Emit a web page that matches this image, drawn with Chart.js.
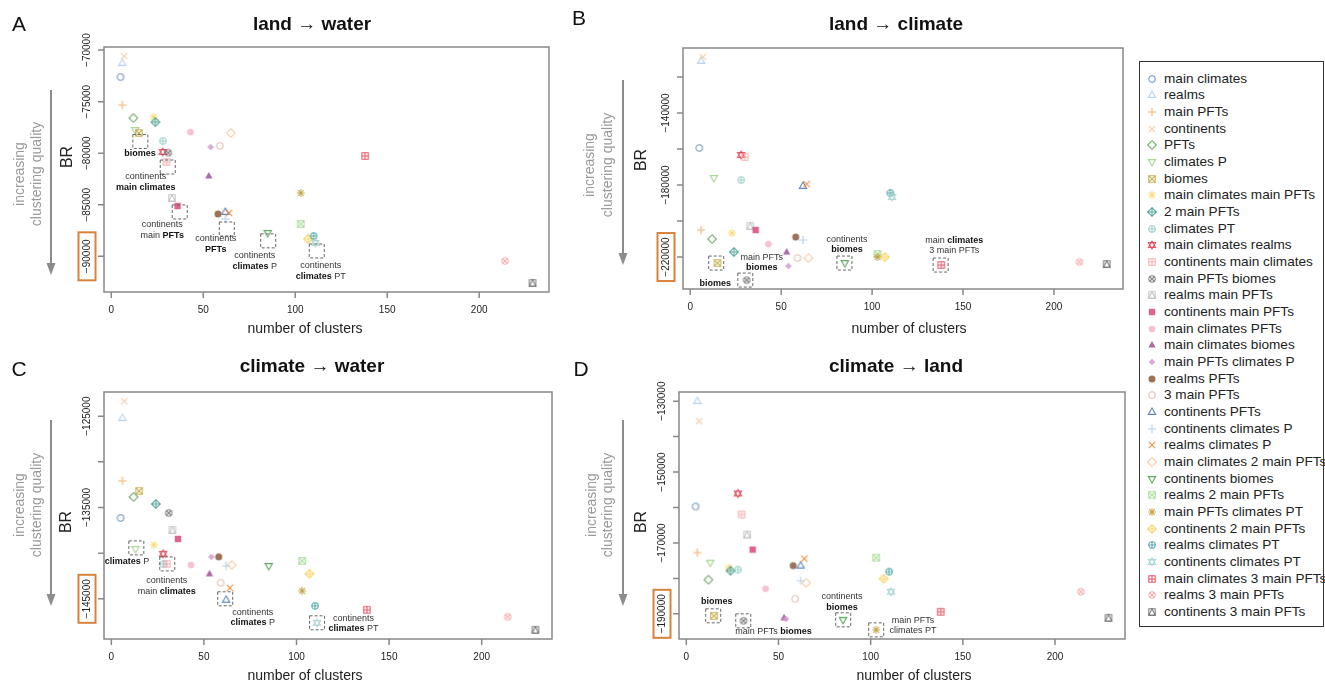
<!DOCTYPE html>
<html>
<head>
<meta charset="utf-8">
<script src="https://cdn.jsdelivr.net/npm/chart.js@4.4.1/dist/chart.umd.min.js"></script>
<style>
  body { margin: 0; background: #fff; width: 1325px; height: 683px; overflow: hidden; position: relative;
         font-family: "Liberation Sans", Arial, sans-serif; }
  canvas.panel { position: absolute; }
  #legend { position: absolute; left: 1139px; top: 61px; width: 185px; height: 566px;
            border: 1.5px solid #333; box-sizing: border-box; }
  #legend .item { position: absolute; left: 0; height: 16px; line-height: 16px; white-space: nowrap;
                  font-size: 13.6px; color: #222; }
  #legend .item canvas { position: absolute; left: 5px; top: 1px; }
  #legend .item span { position: absolute; left: 24px; top: 0; }
</style>
</head>
<body>
<canvas id="pA" class="panel" width="560" height="340" style="left:0;top:0"></canvas>
<canvas id="pB" class="panel" width="575" height="340" style="left:560px;top:0"></canvas>
<canvas id="pC" class="panel" width="560" height="343" style="left:0;top:340px"></canvas>
<canvas id="pD" class="panel" width="575" height="343" style="left:560px;top:340px"></canvas>
<div id="legend"></div>
<script>
// grouping schemes, their number of clusters and the BR score for each mapping
const groupings = [
  'main climates', 'realms', 'main PFTs', 'continents', 'PFTs', 'climates P', 'biomes',
  'main climates main PFTs', '2 main PFTs', 'climates PT', 'main climates realms',
  'continents main climates', 'main PFTs biomes', 'realms main PFTs', 'continents main PFTs',
  'main climates PFTs', 'main climates biomes', 'main PFTs climates P', 'realms PFTs',
  '3 main PFTs', 'continents PFTs', 'continents climates P', 'realms climates P',
  'main climates 2 main PFTs', 'continents biomes', 'realms 2 main PFTs',
  'main PFTs climates PT', 'continents 2 main PFTs', 'realms climates PT',
  'continents climates PT', 'main climates 3 main PFTs', 'realms 3 main PFTs',
  'continents 3 main PFTs'
];
const clusters = [5, 6, 6, 7, 12, 13, 15, 23, 24, 28, 28, 30, 31, 33, 36, 43, 53, 54, 58, 59,
  62, 62, 64, 65, 85, 103, 103, 107, 110, 111, 138, 214, 229];

const brLandWater = [-72620, -71260, -75330, -70580, -76590, -77750, -78040, -76490, -76980,
  -78820, -79880, -80850, -79950, -84340, -85120, -77950, -82210, -79400, -85890, -79300,
  -85700, -86380, -85790, -78040, -87730, -86860, -83860, -88310, -88020, -88700, -80270,
  -90450, -92580];
const brLandClimate = [-159450, -111110, -205000, -108890, -210000, -176110, -223340, -206670,
  -217230, -177230, -163330, -164450, -232790, -202780, -205000, -212790, -217230, -225000,
  -208890, -220560, -180560, -210560, -179450, -220560, -223340, -218340, -220000, -220000,
  -184450, -186670, -224450, -222780, -223890];
const brClimateWater = [-136150, -125220, -132100, -123360, -133850, -139540, -133200, -139100,
  -134620, -141180, -140080, -141180, -135600, -137460, -138440, -141290, -142270, -140410,
  -140410, -143250, -145110, -141400, -143800, -141290, -141400, -140850, -144130, -142270,
  -145770, -147630, -146200, -146970, -148400];
const brClimateLand = [-159720, -130000, -172730, -135660, -180370, -175560, -190560, -176980,
  -177830, -177540, -156040, -161980, -191980, -167640, -171880, -182920, -191130, -191410,
  -176410, -185750, -176410, -180660, -174430, -181220, -191690, -174150, -194520, -180090,
  -178110, -183770, -189430, -183770, -191130];

// R plotting symbols (pch) and colours, one per grouping
const symbols = [1, 2, 3, 4, 5, 6, 7, 8, 9, 10, 11, 12, 13, 14, 15, 16, 17, 18, 19,
  1, 2, 3, 4, 5, 6, 7, 8, 9, 10, 11, 12, 13, 14];
const colours = ['#5a84b8', '#a9c9e6', '#f2a55a', '#f4c595', '#5c9e52', '#96d184', '#bda23c',
  '#f7d66a', '#3b9a8b', '#8fcac1', '#e0404f', '#f5a3a3', '#707070', '#bdbdbd', '#d9487b',
  '#f6b6cd', '#9a4f93', '#d49bcb', '#8b5a3c', '#d9b5aa', '#4471b2', '#a5c7e8', '#f07d22',
  '#f7c395', '#3d9a40', '#9ed98c', '#b8982a', '#f7cf55', '#3f9a9a', '#a3d3cf', '#e0404f',
  '#f5a8a8', '#6a6a6a'];

const xTicks = [0, 50, 100, 150, 200];

const FONT = '"Liberation Sans", Arial, sans-serif';

// draws an R style pch symbol into a small canvas used as point image
function makeMarker(pch, colour) {
  const c = document.createElement('canvas');
  c.width = 14; c.height = 14;
  const g = c.getContext('2d');
  g.globalAlpha = 0.85;
  g.strokeStyle = colour; g.fillStyle = colour; g.lineWidth = 1.1;
  const m = 7, s = 3.2;
  const path = pts => {
    g.beginPath();
    pts.forEach((p, i) => i ? g.lineTo(m + p[0], m + p[1]) : g.moveTo(m + p[0], m + p[1]));
    g.closePath();
  };
  const circle = r => { g.beginPath(); g.arc(m, m, r, 0, Math.PI * 2); };
  const seg = (x0, y0, x1, y1) => { g.moveTo(m + x0, m + y0); g.lineTo(m + x1, m + y1); };
  const plus = r => { g.beginPath(); seg(-r, 0, r, 0); seg(0, -r, 0, r); g.stroke(); };
  const cross = r => { g.beginPath(); seg(-r, -r, r, r); seg(-r, r, r, -r); g.stroke(); };
  const up = [[0, -s * 1.25], [s * 1.15, s * 0.75], [-s * 1.15, s * 0.75]];
  const down = [[0, s * 1.25], [s * 1.15, -s * 0.75], [-s * 1.15, -s * 0.75]];
  const diamond = r => [[0, -r], [r, 0], [0, r], [-r, 0]];
  const square = r => [[-r, -r], [r, -r], [r, r], [-r, r]];
  switch (pch) {
    case 1: circle(s); g.stroke(); break;
    case 2: path(up); g.stroke(); break;
    case 3: plus(s * 1.3); break;
    case 4: cross(s); break;
    case 5: path(diamond(s * 1.35)); g.stroke(); break;
    case 6: path(down); g.stroke(); break;
    case 7: path(square(s)); g.stroke(); cross(s); break;
    case 8: plus(s * 1.25); cross(s * 0.9); break;
    case 9: path(diamond(s * 1.35)); g.stroke(); plus(s * 1.35); break;
    case 10: circle(s); g.stroke(); plus(s); break;
    case 11: path(up); g.stroke(); path(down); g.stroke(); break;
    case 12: path(square(s)); g.stroke(); plus(s); break;
    case 13: circle(s); g.stroke(); cross(s * 0.7); break;
    case 14: path(square(s)); g.stroke(); path([[-s, s], [0, -s], [s, s]]); g.stroke(); break;
    case 15: path(square(s)); g.fill(); break;
    case 16: circle(s * 1.05); g.fill(); break;
    case 17: path(up); g.fill(); break;
    case 18: path(diamond(s * 1.05)); g.fill(); break;
    case 19: circle(s * 1.1); g.fill(); break;
  }
  return c;
}

const B = 1, N = 0; // bold / normal text segments
const panels = [
  {
    id: 'pA', letter: 'A', title: 'land \u2192 water', values: brLandWater,
    yTicks: [-90000, -85000, -80000, -75000, -70000],
    yLabels: [-90000, -85000, -80000, -75000, -70000],
    pad: { left: 104, top: 47, right: 11, bottom: 48 },
    deco: { letter: [19, 25], title: [312, 25], xlab: [305, 329], br: [68, 157],
            arrow: [51, 90, 275], quality: [20, 37, 174] },
    boxes: [[15.8, -78870], [30.7, -81340], [37.2, -85700], [62.8, -87350], [85.3, -88500], [111.7, -89480]],
    notes: [
      { x: 15.6, y: -80050, lines: [[['biomes', B]]] },
      { x: 18.7, y: -82280, lines: [[['continents', N]], [['main climates', B]]] },
      { x: 27.7, y: -86960, lines: [[['continents', N]], [['main ', N], ['PFTs', B]]] },
      { x: 56.8, y: -88310, lines: [[['continents', N]], [['PFTs', B]]] },
      { x: 78.0, y: -89930, lines: [[['continents', N]], [['climates', B], [' P', N]]] },
      { x: 113.9, y: -90930, lines: [[['continents', N]], [['climates', B], [' PT', N]]] }
    ]
  },
  {
    id: 'pB', letter: 'B', title: 'land \u2192 climate', values: brLandClimate,
    yTicks: [-220000, -200000, -180000, -160000, -140000, -120000],
    yLabels: [-220000, -180000, -140000],
    pad: { left: 123, top: 48, right: 12, bottom: 51 },
    deco: { letter: [19, 19], title: [336, 25], xlab: [349, 329], br: [82, 160],
            arrow: [63, 80, 265], quality: [30, 48, 165] },
    boxes: [[14.3, -223340], [30.3, -232790], [84.8, -223340], [137.7, -224450]],
    notes: [
      { x: 13.8, y: -234450, lines: [[['biomes', B]]] },
      { x: 39.4, y: -220000, lines: [[['main PFTs', N]], [['biomes', B]]] },
      { x: 86.2, y: -210000, lines: [[['continents', N]], [['biomes', B]]] },
      { x: 145.2, y: -210560, lines: [[['main ', N], ['climates', B]], [['3 main PFTs', N]]] }
    ]
  },
  {
    id: 'pC', letter: 'C', title: 'climate \u2192 water', values: brClimateWater,
    yTicks: [-145000, -140000, -135000, -130000, -125000],
    yLabels: [-145000, -135000, -125000],
    pad: { left: 104, top: 52, right: 8, bottom: 44 },
    deco: { letter: [19, 30], title: [312, 27], xlab: [305, 336], br: [67, 182],
            arrow: [51, 80, 266], quality: [20, 37, 165] },
    boxes: [[13.5, -139430], [30.2, -141180], [61.5, -145000], [111.1, -147630]],
    notes: [
      { x: 8.4, y: -140930, lines: [[['climates', B], [' P', N]]] },
      { x: 29.9, y: -143030, lines: [[['continents', N]], [['main ', N], ['climates', B]]] },
      { x: 76.4, y: -146460, lines: [[['continents', N]], [['climates', B], [' P', N]]] },
      { x: 130.8, y: -147110, lines: [[['continents', N]], [['climates', B], [' PT', N]]] }
    ]
  },
  {
    id: 'pD', letter: 'D', title: 'climate \u2192 land', values: brClimateLand,
    yTicks: [-190000, -180000, -170000, -160000, -150000, -140000, -130000],
    yLabels: [-190000, -170000, -150000, -130000],
    pad: { left: 119, top: 52, right: 10, bottom: 44 },
    deco: { letter: [21, 30], title: [336, 27], xlab: [354, 336], br: [82, 182],
            arrow: [63, 80, 266], quality: [32, 48, 165] },
    boxes: [[14.6, -190560], [30.9, -191980], [85.1, -191690], [103, -194520]],
    notes: [
      { x: 16.5, y: -186600, lines: [[['biomes', B]]] },
      { x: 47.3, y: -195000, lines: [[['main PFTs ', N], ['biomes', B]]] },
      { x: 84.5, y: -185190, lines: [[['continents', N]], [['biomes', B]]] },
      { x: 123, y: -191780, lines: [[['main PFTs', N]], [['climates PT', N]]] }
    ]
  }
];

// axis limits extended by 4% like R does
function padRange(arr) {
  const lo = Math.min(...arr), hi = Math.max(...arr), d = (hi - lo) * 0.04;
  return [lo - d, hi + d];
}

function minus(v) { return (v < 0 ? '\u2212' : '') + Math.abs(v); }

function rotatedText(ctx, text, x, y) {
  ctx.save();
  ctx.translate(x, y);
  ctx.rotate(-Math.PI / 2);
  ctx.fillText(text, 0, 0);
  ctx.restore();
}

function drawNote(ctx, note, px, py) {
  const fontOf = b => (b ? 'bold ' : '') + '9px ' + FONT;
  ctx.textAlign = 'left';
  ctx.textBaseline = 'middle';
  note.lines.forEach((segs, k) => {
    let w = 0;
    segs.forEach(s => { ctx.font = fontOf(s[1]); w += ctx.measureText(s[0]).width; });
    let xx = px - w / 2;
    segs.forEach(s => {
      ctx.font = fontOf(s[1]);
      ctx.fillStyle = s[1] ? '#111' : '#333';
      ctx.fillText(s[0], xx, py + k * 10.7);
      xx += ctx.measureText(s[0]).width;
    });
  });
}

// frame, axes, titles and notes drawn in the R base-graphics style
function makeFrame(p) {
  return {
    id: 'frame' + p.letter,
    afterDraw(chart) {
      const { ctx, chartArea: a } = chart;
      const x = chart.scales.x, y = chart.scales.y;
      const d = p.deco;
      ctx.save();

      // plot box and axes
      ctx.strokeStyle = '#888';
      ctx.lineWidth = 1.5;
      ctx.strokeRect(a.left, a.top, a.right - a.left, a.bottom - a.top);
      ctx.beginPath();
      xTicks.forEach(t => {
        const px = x.getPixelForValue(t);
        ctx.moveTo(px, a.bottom); ctx.lineTo(px, a.bottom + 6);
      });
      p.yTicks.forEach(t => {
        const py = y.getPixelForValue(t);
        ctx.moveTo(a.left, py); ctx.lineTo(a.left - 6, py);
      });
      ctx.stroke();

      ctx.fillStyle = '#222';
      ctx.font = '10px ' + FONT;
      ctx.textAlign = 'center';
      ctx.textBaseline = 'middle';
      xTicks.forEach(t => ctx.fillText(String(t), x.getPixelForValue(t), a.bottom + 18));
      p.yLabels.forEach(t => rotatedText(ctx, minus(t), a.left - 17, y.getPixelForValue(t)));

      // highlight on the lowest BR label
      const low = Math.min(...p.yLabels);
      ctx.strokeStyle = '#d9823b';
      ctx.lineWidth = 2;
      ctx.strokeRect(a.left - 25.5, y.getPixelForValue(low) - 24, 17, 48);

      // dashed boxes and their notes
      ctx.strokeStyle = '#666';
      ctx.lineWidth = 1;
      ctx.setLineDash([3, 2]);
      p.boxes.forEach(b => {
        const bx = x.getPixelForValue(b[0]), by = y.getPixelForValue(b[1]);
        ctx.strokeRect(bx - 7.5, by - 7, 15, 14);
      });
      ctx.setLineDash([]);
      p.notes.forEach(n => drawNote(ctx, n, x.getPixelForValue(n.x), y.getPixelForValue(n.y)));

      // titles and labels
      ctx.textAlign = 'center';
      ctx.textBaseline = 'middle';
      ctx.fillStyle = '#111';
      ctx.font = '21px ' + FONT;
      ctx.fillText(p.letter, d.letter[0], d.letter[1]);
      ctx.font = 'bold 19px ' + FONT;
      ctx.fillText(p.title, d.title[0], d.title[1]);
      ctx.font = '14px ' + FONT;
      ctx.fillStyle = '#222';
      ctx.fillText('number of clusters', d.xlab[0], d.xlab[1]);
      ctx.font = '16px ' + FONT;
      rotatedText(ctx, 'BR', d.br[0], d.br[1]);

      // quality arrow
      ctx.fillStyle = '#999';
      ctx.font = '14px ' + FONT;
      rotatedText(ctx, 'increasing', d.quality[0], d.quality[2]);
      rotatedText(ctx, 'clustering quality', d.quality[1], d.quality[2]);
      const [ax, ay0, ay1] = d.arrow;
      ctx.strokeStyle = '#8c8c8c';
      ctx.fillStyle = '#8c8c8c';
      ctx.lineWidth = 2;
      ctx.beginPath();
      ctx.moveTo(ax, ay0); ctx.lineTo(ax, ay1 - 10);
      ctx.stroke();
      ctx.beginPath();
      ctx.moveTo(ax - 4.5, ay1 - 12); ctx.lineTo(ax + 4.5, ay1 - 12); ctx.lineTo(ax, ay1);
      ctx.closePath();
      ctx.fill();

      ctx.restore();
    }
  };
}

const xRange = padRange(clusters);

panels.forEach(p => {
  const yRange = padRange(p.values);
  new Chart(document.getElementById(p.id), {
    type: 'scatter',
    data: {
      datasets: groupings.map((g, i) => ({
        label: g,
        data: [{ x: clusters[i], y: p.values[i] }],
        pointStyle: makeMarker(symbols[i], colours[i]),
        pointRadius: 5,
        pointHoverRadius: 5,
        order: -i
      }))
    },
    options: {
      responsive: false,
      animation: false,
      devicePixelRatio: 1,
      events: [],
      layout: { padding: p.pad },
      plugins: { legend: { display: false }, tooltip: { enabled: false } },
      scales: {
        x: { type: 'linear', display: false, min: xRange[0], max: xRange[1] },
        y: { type: 'linear', display: false, min: yRange[0], max: yRange[1] }
      }
    },
    plugins: [makeFrame(p)]
  });
});

// shared legend
const legendEl = document.getElementById('legend');
groupings.forEach((g, i) => {
  const item = document.createElement('div');
  item.className = 'item';
  item.style.top = (8.5 + i * 16.667) + 'px';
  item.appendChild(makeMarker(symbols[i], colours[i]));
  const label = document.createElement('span');
  label.textContent = g;
  item.appendChild(label);
  legendEl.appendChild(item);
});
</script>
</body>
</html>
